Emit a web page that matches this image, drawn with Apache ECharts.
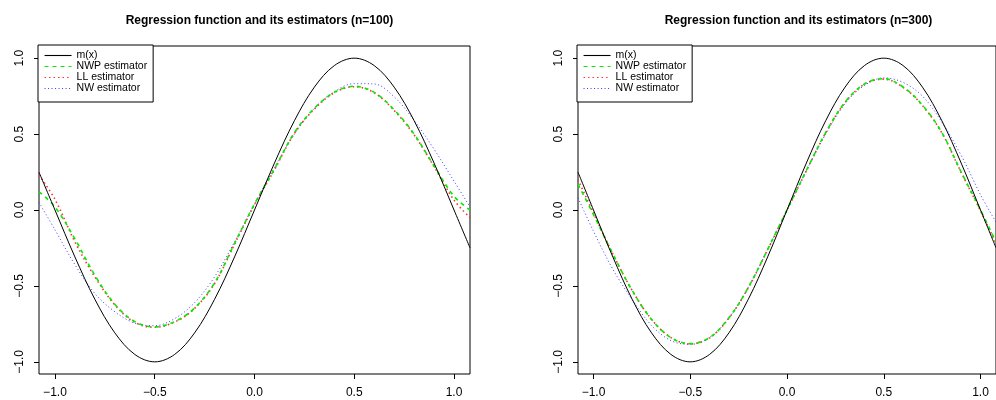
<!DOCTYPE html>
<html>
<head>
<meta charset="utf-8">
<script src="https://cdn.jsdelivr.net/npm/echarts@6/dist/echarts.min.js"></script>
<style>html,body{margin:0;padding:0;background:#fff;}#c{width:996px;height:400px;}</style>
</head>
<body>
<div id="c"></div>
<script>
// x positions at which the curves were read
const xs = [-1.08, -1.0, -0.9, -0.8, -0.7, -0.6, -0.5, -0.4, -0.3, -0.2, -0.1, 0.0,
            0.1, 0.2, 0.3, 0.4, 0.5, 0.6, 0.7, 0.8, 0.9, 1.0, 1.08];
// true regression function m(x)
const mx = [0.249, 0.0, -0.309, -0.588, -0.809, -0.951, -1.0, -0.951, -0.809, -0.588, -0.309, 0.0,
            0.309, 0.588, 0.809, 0.951, 1.0, 0.951, 0.809, 0.588, 0.309, 0.0, -0.249];
// n = 100
const nwp100 = [0.12, 0.02, -0.19, -0.43, -0.62, -0.735, -0.77, -0.735, -0.645, -0.48, -0.22, 0.04,
                0.27, 0.51, 0.67, 0.775, 0.815, 0.775, 0.66, 0.50, 0.29, 0.09, 0.0];
const ll100  = [0.23, 0.07, -0.21, -0.44, -0.625, -0.74, -0.772, -0.738, -0.648, -0.485, -0.225, 0.035,
                0.265, 0.505, 0.665, 0.772, 0.812, 0.772, 0.655, 0.495, 0.285, 0.065, -0.05];
const nw100  = [0.05, -0.13, -0.36, -0.55, -0.67, -0.745, -0.762, -0.715, -0.61, -0.44, -0.21, 0.04,
                0.28, 0.50, 0.67, 0.78, 0.832, 0.83, 0.745, 0.59, 0.40, 0.19, 0.02];
// n = 300
const nwp300 = [0.17, -0.03, -0.29, -0.53, -0.72, -0.84, -0.88, -0.84, -0.71, -0.51, -0.26, 0.0,
                0.26, 0.51, 0.71, 0.83, 0.865, 0.81, 0.69, 0.51, 0.25, 0.0, -0.21];
const ll300  = [0.20, -0.02, -0.29, -0.53, -0.72, -0.84, -0.882, -0.842, -0.712, -0.512, -0.262, -0.002,
                0.258, 0.508, 0.708, 0.828, 0.862, 0.808, 0.688, 0.508, 0.248, -0.005, -0.22];
const nw300  = [0.08, -0.14, -0.39, -0.59, -0.76, -0.86, -0.885, -0.84, -0.71, -0.51, -0.26, 0.0,
                0.26, 0.50, 0.70, 0.82, 0.87, 0.84, 0.75, 0.58, 0.36, 0.10, -0.08];
const tickVals = [-1.0, -0.5, 0.0, 0.5, 1.0];
const titles = ['Regression function and its estimators (n=100)', 'Regression function and its estimators (n=300)'];
const names = ['m(x)', 'NWP estimator', 'LL estimator', 'NW estimator'];

const FONT = '"Liberation Sans", Arial, Helvetica, sans-serif';
const fmt = v => (Math.abs(v) < 1e-9 ? 0 : v).toFixed(1).replace('-', '\u2212');
const pts = arr => xs.map((x, i) => [x, arr[i]]);

const grids = [
  {left: 39, top: 46, width: 431, height: 328},
  {left: 578, top: 46, width: 431, height: 328}
];
const styles = [
  {color: '#000000', width: 1, type: 'solid'},
  {color: '#00ee00', width: 1.6, type: [4, 4]},
  {color: '#ff3030', width: 1.6, type: [1.5, 3]},
  {color: '#3a3aff', width: 1, type: [1, 2.5]}
];
const panels = [[mx, nwp100, ll100, nw100], [mx, nwp300, ll300, nw300]];

const option = {
  animation: false,
  backgroundColor: '#ffffff',
  title: grids.map((g, i) => ({
    text: titles[i], left: g.left + g.width / 2, top: 10, textAlign: 'center',
    textStyle: {fontFamily: FONT, fontWeight: 'bold', fontSize: 12, color: '#000'}
  })),
  legend: grids.map((g, i) => ({
    orient: 'vertical', left: g.left - 1, top: g.top - 1,
    data: names, selectedMode: false,
    itemWidth: 27, itemHeight: 9, itemGap: 0,
    itemStyle: {opacity: 0},
    lineStyle: {width: 1.1},
    borderColor: '#000', borderWidth: 1, borderRadius: 0,
    backgroundColor: '#fff', padding: [5, 6, 8, 6],
    textStyle: {fontFamily: FONT, fontSize: 10.5, color: '#000', lineHeight: 9}
  })),
  grid: grids.map(g => Object.assign({show: true, borderColor: '#000', borderWidth: 1, backgroundColor: 'transparent', containLabel: false}, g)),
  xAxis: grids.map((g, i) => ({
    type: 'value', gridIndex: i, min: -1.08, max: 1.08,
    splitLine: {show: false}, axisLine: {show: false, onZero: false},
    axisTick: {show: true, length: 5, lineStyle: {color: '#000'}, customValues: tickVals},
    axisLabel: {customValues: tickVals, formatter: fmt, margin: 13, color: '#000', fontFamily: FONT, fontSize: 12}
  })),
  yAxis: grids.map((g, i) => ({
    type: 'value', gridIndex: i, min: -1.08, max: 1.08,
    splitLine: {show: false}, axisLine: {show: false, onZero: false},
    axisTick: {show: true, length: 5, lineStyle: {color: '#000'}, customValues: tickVals},
    axisLabel: {customValues: tickVals, formatter: fmt, margin: 13, rotate: 90, color: '#000', fontFamily: FONT, fontSize: 12}
  })),
  series: []
};
panels.forEach((arrs, p) => {
  arrs.forEach((arr, k) => {
    option.series.push({
      type: 'line', name: names[k], xAxisIndex: p, yAxisIndex: p,
      data: pts(arr), smooth: 0.35, symbol: 'none', clip: true,
      lineStyle: styles[k], itemStyle: {color: styles[k].color},
      z: 10 - k
    });
  });
});
const chart = echarts.init(document.getElementById('c'), null, {renderer: 'canvas'});
chart.setOption(option);
</script>
</body>
</html>
